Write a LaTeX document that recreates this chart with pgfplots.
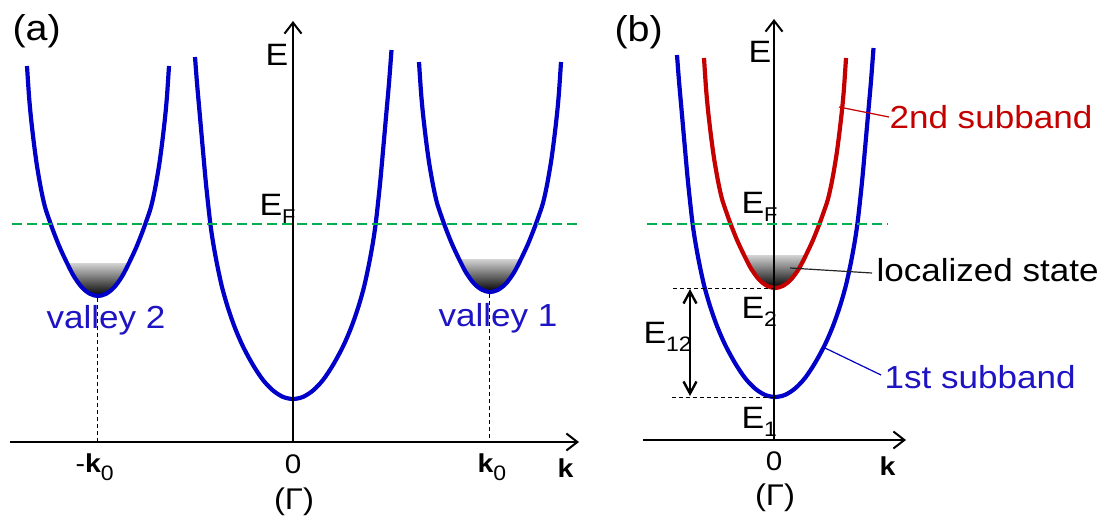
\documentclass[border=0pt]{standalone}
\usepackage{fontspec}
\setmainfont{Liberation Sans}[FakeStretch=1.1]
\usepackage{pgfplots}
\pgfplotsset{compat=1.18}
\usetikzlibrary{arrows.meta}
\definecolor{bandblue}{RGB}{0,0,200}
\definecolor{bandred}{RGB}{196,0,0}
\definecolor{efgreen}{RGB}{0,176,80}
\definecolor{txtblue}{RGB}{30,20,195}
\newcommand{\fs}[1]{\fontsize{#1}{#1}\selectfont}
\begin{document}
\begin{tikzpicture}
\useasboundingbox (0,0) rectangle (1103bp,520bp);
\begin{axis}[at={(0,0)}, anchor=south west, scale only axis,
  width=1103bp, height=520bp, xmin=0, xmax=1103, ymin=0, ymax=520,
  y dir=reverse, hide axis, clip=false, enlargelimits=false,
  every node/.style={inner sep=0pt, outer sep=0pt},
  band/.style={line width=4.2bp, smooth, no markers},
  shade/.style={draw=none, top color=black!17, bottom color=black, no markers},
  ax/.style={black, line width=2bp, no markers, -{Straight Barb[length=11bp,width=17bp,line width=2bp]}},
  thindash/.style={black, line width=0.9bp, dash pattern=on 4bp off 3bp, no markers},
  efline/.style={efgreen, line width=2.6bp, dash pattern=on 10bp off 5bp, no markers},
]
% ---------- panel (a) ----------
% shaded occupied states
\addplot[shade] coordinates {(67,263) (74,276.5) (82,287.5) (90,293.8) (98,296) (106,293.8) (114,287.5) (122,276.5) (129,263)};
\addplot[shade] coordinates {(459,259) (466,272.5) (474,283.5) (482,289.8) (490,292) (498,289.8) (506,283.5) (514,272.5) (521,259)};
% valley 2
\addplot[band, bandblue] coordinates {(27,66) (29,96) (31,118) (34,144) (37,166) (41,189) (45,207) (50,222) (54,233) (60,248) (67,263) (74,276.5) (82,287.5) (90,293.8) (98,296) (106,293.8) (114,287.5) (122,276.5) (129,263) (136,248) (142,233) (146,222) (151,207) (155,189) (159,166) (162,144) (165,118) (167,96) (169,66)};
% valley 1
\addplot[band, bandblue] coordinates {(419,62) (421,92) (423,114) (426,140) (429,162) (433,185) (437,203) (442,218) (446,229) (452,244) (459,259) (466,272.5) (474,283.5) (482,289.8) (490,292) (498,289.8) (506,283.5) (514,272.5) (521,259) (528,244) (534,229) (538,218) (543,203) (547,185) (551,162) (554,140) (557,114) (559,92) (561,62)};
% Gamma valley
\addplot[band, bandblue] coordinates {(195,57) (197,83) (200,117) (203,151) (206,184) (210,221) (213,242) (217,264) (222,287) (228,308) (235,328) (243,346.5) (253,365) (263,380) (273,390.5) (283,396.9) (293,399) (303,396.9) (313,390.5) (323,380) (333,365) (343,346.5) (351,328) (358,308) (364,287) (369,264) (373,242) (376,221) (380,184) (383,151) (386,117) (389,83) (391.5,50)};
% dashed guides
\addplot[thindash] coordinates {(97,298) (97,441)};
\addplot[thindash] coordinates {(489,294) (489,441)};
% axes
\addplot[ax] coordinates {(10,442) (579,442)};
\addplot[ax] coordinates {(293,443) (293,21)};
% Fermi level
\addplot[efline] coordinates {(12,224) (581,224)};
% labels (a)
\node[anchor=base west] at (axis cs:9,40) {\fs{36}(a)};
\node[anchor=base west] at (axis cs:262,65) {\fs{31}E};
\node[anchor=base west] at (axis cs:256,215) {\fs{31}E\raisebox{-8bp}{\fs{20}F}};
\node[anchor=base west, text=txtblue] at (axis cs:43,328) {\fs{32}valley 2};
\node[anchor=base west, text=txtblue] at (axis cs:435,326) {\fs{32}valley 1};
\node[anchor=base west] at (axis cs:72,472) {\fs{26}-\textbf{k}\raisebox{-8bp}{\fs{21}0}};
\node[anchor=base west] at (axis cs:474,472) {\fs{26}\textbf{k}\raisebox{-8bp}{\fs{21}0}};
\node[anchor=base] at (axis cs:293,473) {\fs{27}0};
\node[anchor=base] at (axis cs:294,509) {\fs{30}(Γ)};
\node[anchor=base west] at (axis cs:554,477) {\fs{26}\textbf{k}};
% ---------- panel (b) ----------
\addplot[shade] coordinates {(744,255) (751,268.5) (759,279.5) (767,285.8) (775,288) (783,285.8) (791,279.5) (799,268.5) (806,255)};
% 1st subband
\addplot[band, bandblue] coordinates {(677,55) (679,81) (682,115) (685,149) (688,182) (692,219) (695,240) (699,262) (704,285) (710,306) (717,326) (725,344.5) (735,363) (745,378) (755,388.5) (765,394.9) (775,397) (785,394.9) (795,388.5) (805,378) (815,363) (825,344.5) (833,326) (840,306) (846,285) (851,262) (855,240) (858,219) (862,182) (865,149) (868,115) (871,81) (873.5,48)};
% 2nd subband
\addplot[band, bandred] coordinates {(704,58) (706,88) (708,110) (711,136) (714,158) (718,181) (722,199) (727,214) (731,225) (737,240) (744,255) (751,268.5) (759,279.5) (767,285.8) (775,288) (783,285.8) (791,279.5) (799,268.5) (806,255) (813,240) (819,225) (823,214) (828,199) (832,181) (836,158) (839,136) (842,110) (844,88) (846,58)};
% dashed guides
\addplot[thindash] coordinates {(673,288) (774,288)};
\addplot[thindash] coordinates {(672,397) (774,397)};
% E12 double arrow
\addplot[black, line width=2.4bp, no markers, {Straight Barb[length=12bp,width=13bp,line width=2.4bp]}-{Straight Barb[length=12bp,width=13bp,line width=2.4bp]}] coordinates {(690,289) (690,396)};
% leader lines
\addplot[bandred, line width=1.2bp, no markers] coordinates {(889,117) (839,107)};
\addplot[black!85, line width=1.2bp, no markers] coordinates {(872,273) (790,268)};
\addplot[bandblue, line width=1.2bp, no markers] coordinates {(881,375) (825,348)};
% axes
\addplot[ax] coordinates {(643,440) (906,440)};
\addplot[ax] coordinates {(774,441) (774,19)};
% Fermi level
\addplot[efline] coordinates {(647,224) (888,224)};
% labels (b)
\node[anchor=base west] at (axis cs:611,41) {\fs{36}(b)};
\node[anchor=base west] at (axis cs:745,62) {\fs{31}E};
\node[anchor=base west] at (axis cs:738,213) {\fs{31}E\raisebox{-8bp}{\fs{20}F}};
\node[anchor=base west] at (axis cs:738,318) {\fs{31}E\raisebox{-8bp}{\fs{21}2}};
\node[anchor=base west] at (axis cs:738,428) {\fs{31}E\raisebox{-8bp}{\fs{21}1}};
\node[anchor=base west] at (axis cs:640,343) {\fs{31}E\raisebox{-8bp}{\fs{21}12}};
\node[anchor=base west, text=bandred] at (axis cs:886,128) {\fs{32}2nd subband};
\node[anchor=base west] at (axis cs:873,281) {\fs{32}localized state};
\node[anchor=base west, text=txtblue] at (axis cs:881,388) {\fs{32}1st subband};
\node[anchor=base] at (axis cs:774,470) {\fs{27}0};
\node[anchor=base] at (axis cs:775,505) {\fs{30}(Γ)};
\node[anchor=base west] at (axis cs:876,475) {\fs{26}\textbf{k}};
\end{axis}
\end{tikzpicture}
\end{document}
